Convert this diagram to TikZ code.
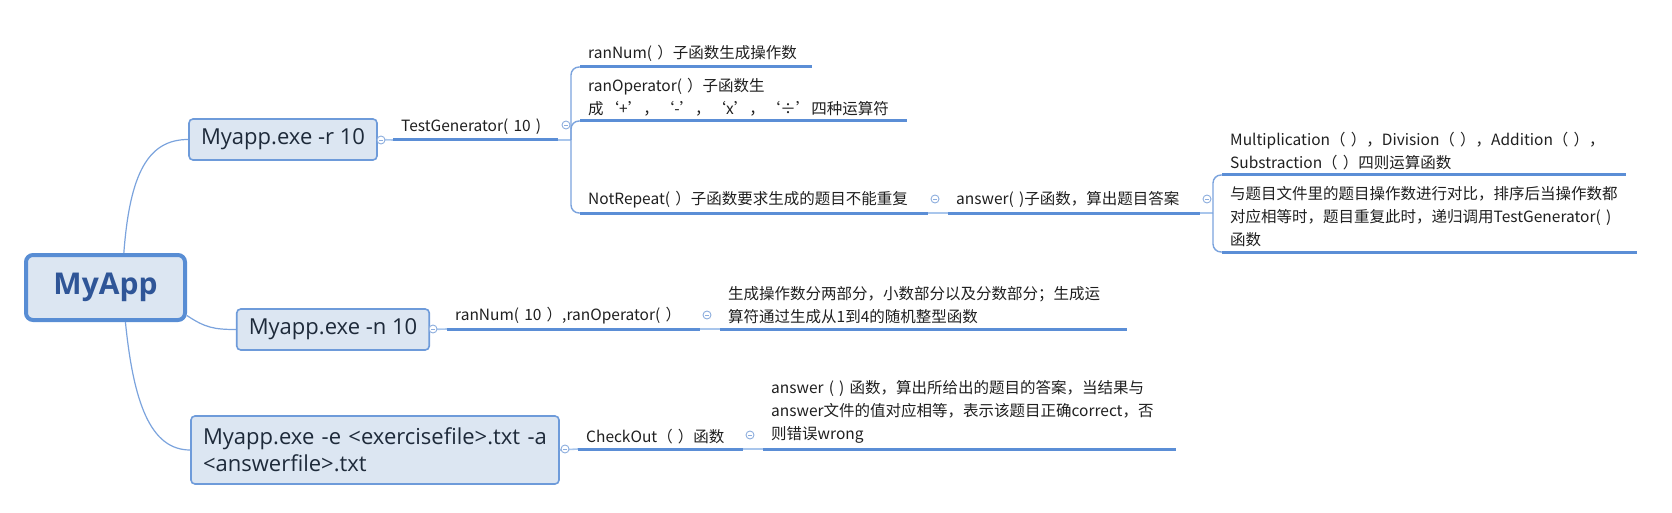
\documentclass[tikz,border=0pt]{standalone}
\usepackage{fontspec}
\setmainfont{Noto Sans CJK SC}
\newfontfamily\boxfont{Open Sans}

\definecolor{boxfill}{HTML}{DCE6F2}
\definecolor{boxline}{HTML}{6E9BDA}
\definecolor{rootline}{HTML}{588DD4}
\definecolor{roottext}{HTML}{2F5597}
\definecolor{boxtext}{HTML}{1E2A3A}
\definecolor{ulinec}{HTML}{5B8ED6}
\definecolor{joinc}{HTML}{A9C6EC}
\definecolor{stemc}{HTML}{7BA3DD}
\definecolor{foldc}{HTML}{8DAEDE}

\begin{document}
\begin{tikzpicture}[x=1pt, y=-1pt,
    every node/.style={font=\fontsize{15.5}{23}\selectfont, text=black!88},
    root/.style={rectangle, draw=rootline, line width=4pt, rounded corners=7pt,
                 fill=boxfill, minimum width=159pt, minimum height=65pt,
                 font=\boxfont\bfseries\fontsize{30}{34}\selectfont, text=roottext},
    cmdbox/.style={rectangle, draw=boxline, line width=1.6pt, rounded corners=4pt,
                   fill=boxfill, minimum height=41pt, inner xsep=12pt,
                   font=\boxfont\fontsize{22}{27}\selectfont, text=boxtext},
    topic/.style={anchor=south west, align=left, inner xsep=8pt, inner ysep=5pt},
    fold/.style={circle, draw=foldc, fill=white, line width=0.9pt, minimum size=8pt,
                 inner sep=0pt,
                 path picture={\draw[foldc, line width=0.9pt]
                   ([xshift=2pt]path picture bounding box.west) --
                   ([xshift=-2pt]path picture bounding box.east);}},
    stem/.style={stemc, line width=1.2pt},
    uline/.style={ulinec, line width=3pt},
    joinline/.style={joinc, line width=1.6pt},
    bracket/.style={stemc, line width=1.4pt, rounded corners=8pt},
]
    \useasboundingbox (0,0) rectangle (1672,513);

    % central topic and the three command lines
    \node[root] (root) at (105.5,287.5) {MyApp};
    \node[cmdbox, minimum width=186pt] (optr) at (283,139.5) {Myapp.exe -r 10};
    \node[cmdbox, minimum width=190pt] (optn) at (333,329.5) {Myapp.exe -n 10};
    \node[cmdbox, minimum width=368pt, minimum height=68pt, align=left,
          text width=344pt] (opte) at (375,450)
          {Myapp.exe -e <exercisefile>.txt -a\\<answerfile>.txt};

    \draw[stem] (root.62) .. controls +(6,-80) and +(-40,0) .. (optr.west);
    \draw[stem] (root.-19) .. controls +(18,12) and +(-22,0) .. (optn.west);
    \draw[stem] (root.-60) .. controls +(8,80) and +(-40,0) .. (opte.west);

    % -r branch
    \node[topic, text width=149pt] (testgen) at (393,140) {TestGenerator( 10 )};
    \node[topic, text width=216pt] (rannum) at (580,67) {ranNum( ）子函数生成操作数};
    \node[topic, text width=311pt] (ranop) at (580,121)
          {ranOperator( ）子函数生\\成‘+’，‘-’，‘x’，‘÷’四种运算符};
    \node[topic, text width=332pt] (notrep) at (580,213)
          {NotRepeat( ）子函数要求生成的题目不能重复};
    \node[topic, text width=236pt] (answer) at (948,213) {answer( )子函数，算出题目答案};
    \node[topic, text width=388pt] (arith) at (1222,175)
          {Multiplication（ ），Division（ ），Addition（ ），\\Substraction（ ）四则运算函数};
    \node[topic, text width=399pt] (compare) at (1222,252)
          {与题目文件里的题目操作数进行对比，排序后当操作数都\\对应相等时，题目重复此时，递归调用TestGenerator( )\\函数};

    % -n branch
    \node[topic, text width=237pt] (randn) at (447,329) {ranNum( 10 ）,ranOperator( ）};
    \node[topic, text width=391pt] (parts) at (720,329)
          {生成操作数分两部分，小数部分以及分数部分；生成运\\算符通过生成从1到4的随机整型函数};

    % -e branch
    \node[topic, text width=149pt] (checkout) at (578,449) {CheckOut（ ）函数};
    \node[topic, text width=397pt] (verdict) at (763,449)
          {answer ( ) 函数，算出所给出的题目的答案，当结果与\\answer文件的值对应相等，表示该题目正确correct，否\\则错误wrong};

    \coordinate (tgj) at (571,140);
    \coordinate (anj) at (1213,213);

    \draw[joinline] (optr.east) -- (testgen.south west);
    \draw[joinline] (optn.east) -- (randn.south west);
    \draw[joinline] (opte.east) -- (checkout.south west);
    \draw[joinline] (testgen.south east) -- (tgj);
    \draw[joinline] (notrep.south east) -- (answer.south west);
    \draw[joinline] (answer.south east) -- (anj);
    \draw[joinline] (randn.south east) -- (parts.south west);
    \draw[joinline] (checkout.south east) -- (verdict.south west);

    \foreach \k in {rannum, ranop, notrep}
        \draw[bracket] (tgj) |- (\k.south west);
    \foreach \k in {arith, compare}
        \draw[bracket] (anj) |- (\k.south west);

    \foreach \k in {testgen, rannum, ranop, notrep, answer, arith, compare,
                    randn, parts, checkout, verdict}
        \draw[uline] (\k.south west) -- (\k.south east);

    % collapse marks
    \node[fold] (foldr) at (381,140) {};
    \node[fold] (foldn) at (433,329) {};
    \node[fold] (folde) at (565,449) {};
    \node[fold] (foldtg) at (566,125) {};
    \node[fold] (foldnr) at (935,199) {};
    \node[fold] (foldan) at (1207,199) {};
    \node[fold] (foldrn) at (707,315) {};
    \node[fold] (foldco) at (750,435) {};
\end{tikzpicture}
\end{document}
